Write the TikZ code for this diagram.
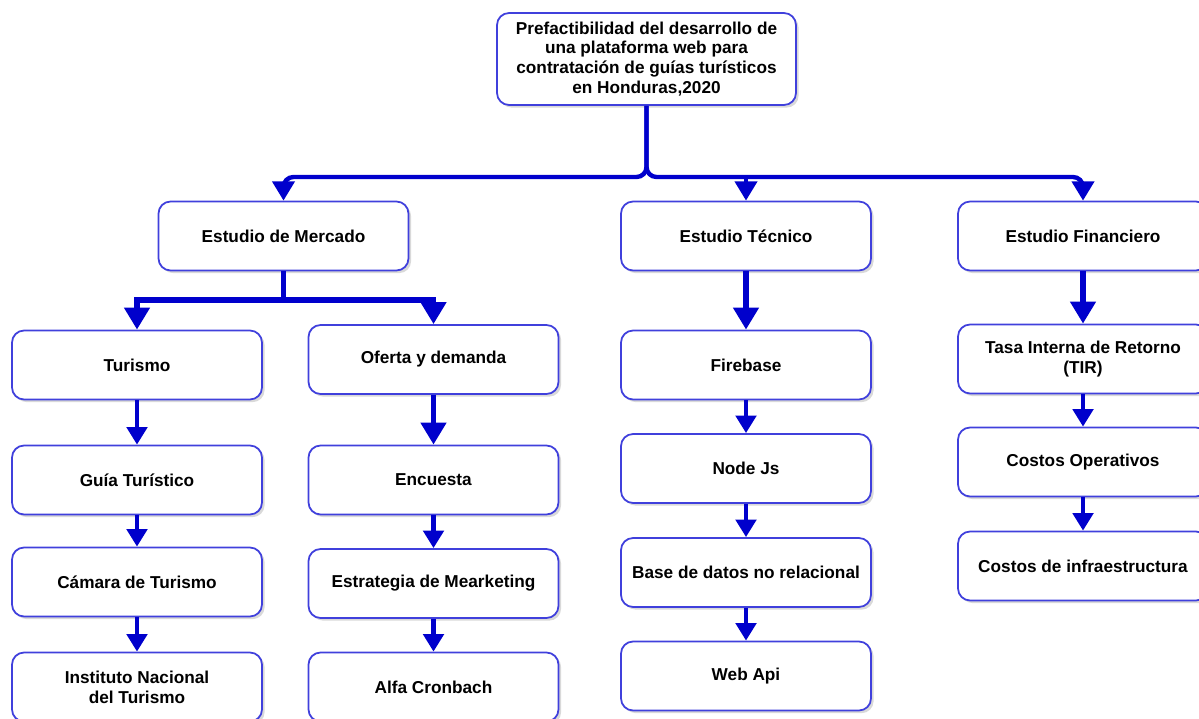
\documentclass[tikz,border=0pt]{standalone}
\usepackage{fontspec}
\setmainfont{Liberation Sans}
\usetikzlibrary{arrows.meta, positioning, shadows}
\definecolor{arrowBlue}{HTML}{0000CC}
\definecolor{boxBlue}{HTML}{4040DC}

\begin{document}
\begin{tikzpicture}[
    x=0.02cm, y=-0.02cm,
    font=\bfseries\fontsize{9.8}{11.3}\selectfont,
    box/.style={draw=boxBlue, line width=1pt, rounded corners=0.24cm, fill=white,
                minimum width=5cm, minimum height=1.38cm, align=center,
                drop shadow={shadow xshift=1.5pt, shadow yshift=-1.5pt, opacity=0.3}},
    arr/.style={draw=arrowBlue, line width=2.8pt, -{Triangle[width=11.5pt,length=10pt]}},
    bigarr/.style={draw=arrowBlue, line width=3.4pt, -{Triangle[width=14pt,length=12.5pt]}},
    trunk/.style={draw=arrowBlue, line width=2.5pt, rounded corners=0.2cm,
                  -{Triangle[width=12.5pt,length=11pt]}}
  ]
  \useasboundingbox (0,0) rectangle (1199,719);

  \node[box, minimum width=5.98cm, minimum height=1.84cm] (top) at (646.5,59)
    {Prefactibilidad del desarrollo de\\una plataforma web para\\contratación de guías turísticos\\en Honduras,2020};

  \node[box] (mer) at (283.5,236) {Estudio de Mercado};
  \node[box] (tec) at (746,236)   {Estudio Técnico};
  \node[box] (fin) at (1083,236)  {Estudio Financiero};

  \node[box] (tur) at (137,365)   {Turismo};
  \node[box] (gui) at (137,480)   {Guía Turístico};
  \node[box] (cam) at (137,582)   {Cámara de Turismo};
  \node[box] (ins) at (137,687)   {Instituto Nacional\\del Turismo};

  \node[box] (ofe) at (433.5,359.5) {Oferta y demanda};
  \node[box] (enc) at (433.5,480)   {Encuesta};
  \node[box] (est) at (433.5,583.5) {Estrategia de Mearketing};
  \node[box] (alf) at (433.5,687)   {Alfa Cronbach};

  \node[box] (fir) at (746,365)   {Firebase};
  \node[box] (nod) at (746,468.5) {Node Js};
  \node[box] (bas) at (746,572.5) {Base de datos no relacional};
  \node[box] (web) at (746,676)   {Web Api};

  \node[box] (tir) at (1083,359)  {Tasa Interna de Retorno\\(TIR)};
  \node[box] (cop) at (1083,462)  {Costos Operativos};
  \node[box] (cin) at (1083,566)  {Costos de infraestructura};

  \coordinate (split) at (646.5,177);
  \draw[trunk] (top.south) -- (split) -| (mer.north);
  \draw[trunk] (top.south) -- (split) -| (fin.north);
  \draw[trunk, rounded corners=0pt] (split -| tec.north) -- (tec.north);

  \coordinate (mersplit) at (283.5,300);
  \draw[bigarr] (mer.south) -- (mersplit) -| (tur.north);
  \draw[bigarr] (mer.south) -- (mersplit) -| (ofe.north);

  \draw[bigarr] (ofe.south) -- (enc.north);
  \draw[bigarr] (tec.south) -- (fir.north);
  \draw[bigarr] (fin.south) -- (tir.north);

  \foreach \a/\b in {tur/gui, gui/cam, cam/ins, enc/est, est/alf,
                     fir/nod, nod/bas, bas/web, tir/cop, cop/cin}
    \draw[arr] (\a.south) -- (\b.north);
\end{tikzpicture}
\end{document}
